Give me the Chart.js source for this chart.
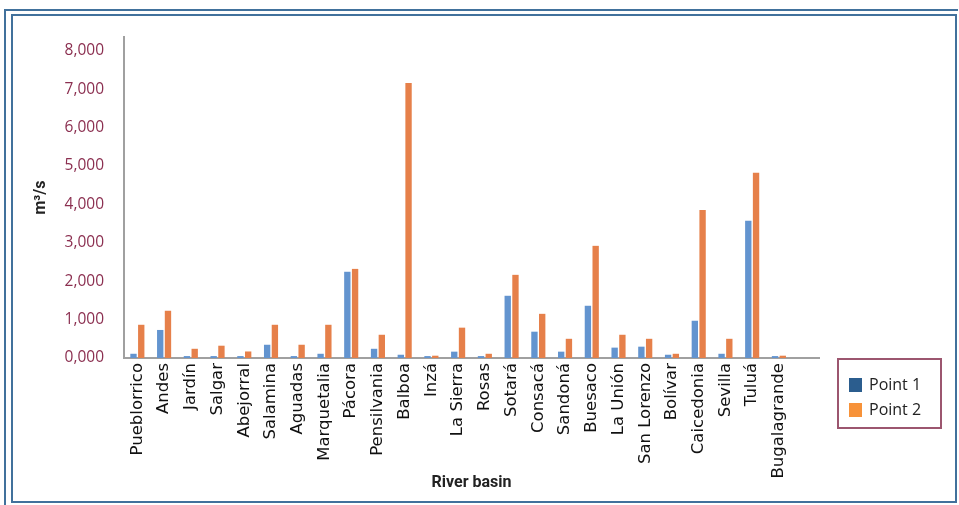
<!DOCTYPE html>
<html>
<head>
<meta charset="utf-8">
<script src="https://cdn.jsdelivr.net/npm/chart.js@4.4.0/dist/chart.umd.min.js"></script>
<style>
    html, body { margin: 0; padding: 0; background: #fff; }
    #wrap { position: relative; width: 959px; height: 505px; overflow: hidden; }
    #outer { position: absolute; left: 4px; top: 9px; width: 954px; height: 500px; border-top: 2px solid #41719c; border-left: 2px solid #41719c; box-sizing: border-box; }
    #inner { position: absolute; left: 11px; top: 14px; width: 946px; height: 489px; border: 2px solid #41719c; box-sizing: border-box; }
    #chart { position: absolute; left: 0; top: 0; }
    #legend { position: absolute; left: 837px; top: 358px; width: 105px; height: 71px; border: 2px solid #9c566f; box-sizing: border-box; font: 16px "Open Sans", sans-serif; color: #222; }
    #legend div { position: absolute; left: 10px; height: 20px; line-height: 20px; }
    #legend span { display: inline-block; width: 13px; height: 14px; margin-right: 7px; vertical-align: -2px; }
</style>
</head>
<body>
<div id="wrap">
    <div id="outer"></div>
    <div id="inner"></div>
    <canvas id="chart" width="959" height="505"></canvas>
    <div id="legend"></div>
</div>
<script>
// river basins (last slot left empty, as in the original axis)
const basins = ["Pueblorrico", "Andes", "Jardín", "Salgar", "Abejorral", "Salamina", "Aguadas",
    "Marquetalia", "Pácora", "Pensilvania", "Balboa", "Inzá", "La Sierra", "Rosas", "Sotará",
    "Consacá", "Sandoná", "Buesaco", "La Unión", "San Lorenzo", "Bolívar", "Caicedonia",
    "Sevilla", "Tuluá", "Bugalagrande", ""];

// m3/s
const point1 = [110, 730, 50, 50, 50, 345, 50, 110, 2245, 240, 85, 50, 165, 50, 1620,
    685, 165, 1360, 270, 295, 85, 970, 110, 3570, 50, null];
const point2 = [865, 1230, 240, 320, 170, 865, 345, 865, 2320, 605, 7160, 60, 790, 110, 2165,
    1150, 500, 2920, 605, 500, 110, 3855, 500, 4820, 60, null];

const yTicks = [0, 1000, 2000, 3000, 4000, 5000, 6000, 7000, 8000];

const seriesNames = ["Point 1", "Point 2"];
const barColors = ["#6394cf", "#e6804a"];
const legendColors = ["#2b5d8e", "#f79239"];

const legend = document.getElementById("legend");
seriesNames.forEach((name, i) => {
    const row = document.createElement("div");
    row.style.top = (14 + i * 25) + "px";
    row.innerHTML = '<span style="background:' + legendColors[i] + '"></span>' + name;
    legend.appendChild(row);
});

const ctx = document.getElementById("chart").getContext("2d");

new Chart(ctx, {
    type: "bar",
    data: {
        labels: basins,
        datasets: [
            { label: seriesNames[0], data: point1, backgroundColor: barColors[0] },
            { label: seriesNames[1], data: point2, backgroundColor: barColors[1] },
        ],
    },
    options: {
        responsive: false,
        animation: false,
        layout: { padding: { top: 37, right: 140, left: 0, bottom: 0 } },
        datasets: { bar: { categoryPercentage: 0.58, barPercentage: 0.82 } },
        plugins: { legend: { display: false }, tooltip: { enabled: false } },
        scales: {
            x: {
                grid: { display: false, drawTicks: false },
                border: { display: true, color: "#a0a0a0", width: 2 },
                ticks: {
                    autoSkip: false, minRotation: 90, maxRotation: 90, padding: 5,
                    color: "#111", font: { family: "DejaVu Sans", size: 16.5 },
                },
                title: {
                    display: true, text: "River basin", color: "#222",
                    font: { family: "Roboto", size: 16, weight: "bold" },
                    padding: { top: 0, bottom: 12 },
                },
                afterFit: s => { s.height = 147; },
            },
            y: {
                min: 0, max: 8357,
                grid: { display: false, drawTicks: false },
                border: { display: true, color: "#a0a0a0", width: 2 },
                afterBuildTicks: s => { s.ticks = yTicks.map(v => ({ value: v })); },
                ticks: {
                    padding: 20, color: "#8b2f50",
                    font: { family: "Open Sans", size: 15.5 },
                    callback: v => v === 0 ? "0,000" : v.toLocaleString("en-US"),
                },
                title: {
                    display: true, text: "m³/s", color: "#222",
                    font: { family: "Roboto", size: 16, weight: "bold" },
                    padding: { top: 31, bottom: 0 },
                },
                afterFit: s => { s.width = 124; },
            },
        },
    },
});
</script>
</body>
</html>
